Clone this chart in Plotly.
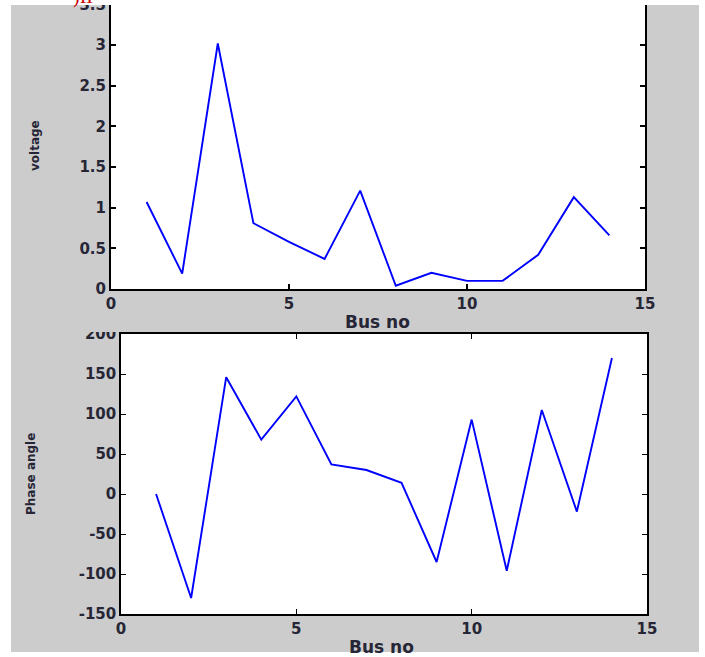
import plotly.graph_objects as go

# ---- data ----
bus_no = [1, 2, 3, 4, 5, 6, 7, 8, 9, 10, 11, 12, 13, 14]
voltage = [1.07, 0.19, 3.02, 0.81, 0.58, 0.37, 1.21, 0.04, 0.20, 0.10, 0.10, 0.42, 1.13, 0.66]
phase_angle = [0, -130, 146, 68, 122, 37, 30, 14, -85, 93, -96, 105, -22, 170]

x_ticks = [0, 5, 10, 15]
v_ticks = [0, 0.5, 1, 1.5, 2, 2.5, 3, 3.5]
v_tick_text = ["0", "0.5", "1", "1.5", "2", "2.5", "3", "3.5"]
p_ticks = [-150, -100, -50, 0, 50, 100, 150, 200]
p_tick_text = ["-150", "-100", "-50", "0", "50", "100", "150", "200"]

W, H = 705, 657
def fx(px):
    return px / W
def fy(py):
    return 1 - py / H

GRAY = "#cccccc"
TXT = "#262636"
tick_font = dict(family="DejaVu Sans", size=15, color=TXT, weight="bold")

fig = go.Figure()
fig.add_trace(go.Scatter(x=bus_no, y=voltage, mode="lines",
                         line=dict(color="#0000ff", width=1.9),
                         xaxis="x", yaxis="y", showlegend=False))
fig.add_trace(go.Scatter(x=bus_no, y=phase_angle, mode="lines",
                         line=dict(color="#0000ff", width=1.9),
                         xaxis="x2", yaxis="y2", showlegend=False))

common = dict(showline=True, mirror="ticks", ticks="inside", ticklen=5,
              tickcolor="black", linecolor="black", showgrid=False,
              zeroline=False, tickfont=tick_font, automargin=False,
              ticklabeloverflow="allow")

fig.update_layout(
    width=W, height=H,
    margin=dict(l=0, r=0, t=0, b=0, pad=0, autoexpand=False),
    paper_bgcolor=GRAY, plot_bgcolor="white",
    showlegend=False,
    xaxis=dict(domain=[fx(111), fx(645)], range=[0, 15], tickvals=x_ticks,
               anchor="y", linewidth=2, tickwidth=1.5, **common),
    yaxis=dict(domain=[fy(289), 1.0], range=[0, 3.555], tickvals=v_ticks,
               ticktext=v_tick_text, anchor="x", linewidth=2, tickwidth=1.5,
               **common),
    xaxis2=dict(domain=[fx(121), fx(647)], range=[0, 15], tickvals=x_ticks,
                anchor="y2", linewidth=1.5, tickwidth=1.2, **common),
    yaxis2=dict(domain=[fy(614), fy(334)], range=[-150, 200], tickvals=p_ticks,
                ticktext=p_tick_text, anchor="x2", linewidth=1.5, tickwidth=1.2,
                **common),
)

title_font = dict(family="DejaVu Sans", size=17, color=TXT, weight="bold")
ytitle_font = dict(family="DejaVu Sans", size=12, color=TXT, weight="bold")
ann = [
    dict(text="Bus no", x=fx(377), y=fy(322), xref="paper", yref="paper",
         showarrow=False, font=title_font, xanchor="center", yanchor="middle"),
    dict(text="Bus no", x=fx(381), y=fy(647), xref="paper", yref="paper",
         showarrow=False, font=title_font, xanchor="center", yanchor="middle"),
    dict(text="voltage", x=fx(35), y=fy(146), xref="paper", yref="paper",
         showarrow=False, font=ytitle_font, textangle=-90,
         xanchor="center", yanchor="middle"),
    dict(text="Phase angle", x=fx(31), y=fy(474), xref="paper", yref="paper",
         showarrow=False, font=ytitle_font, textangle=-90,
         xanchor="center", yanchor="middle"),
    dict(text=")II", x=fx(83), y=fy(10), xref="paper", yref="paper",
         showarrow=False, font=dict(family="Liberation Serif", size=20, color="#cc0000"),
         xanchor="center", yanchor="bottom"),
]
fig.update_layout(annotations=ann)

shapes = [
    # white margins around the gray figure
    dict(type="rect", xref="paper", yref="paper", x0=0, x1=fx(11), y0=0, y1=1,
         fillcolor="white", line=dict(width=0), layer="above"),
    dict(type="rect", xref="paper", yref="paper", x0=fx(699), x1=1, y0=0, y1=1,
         fillcolor="white", line=dict(width=0), layer="above"),
    dict(type="rect", xref="paper", yref="paper", x0=0, x1=1, y0=fy(5), y1=1,
         fillcolor="white", line=dict(width=0), layer="above"),
    dict(type="rect", xref="paper", yref="paper", x0=0, x1=1, y0=0, y1=fy(652),
         fillcolor="white", line=dict(width=0), layer="above"),
    # overlap of upper panel onto lower panel's top label
    dict(type="rect", xref="paper", yref="paper", x0=fx(11), x1=fx(119),
         y0=fy(332), y1=fy(322), fillcolor=GRAY, line=dict(width=0), layer="above"),
]
fig.update_layout(shapes=shapes)

fig.write_html("out.html")
